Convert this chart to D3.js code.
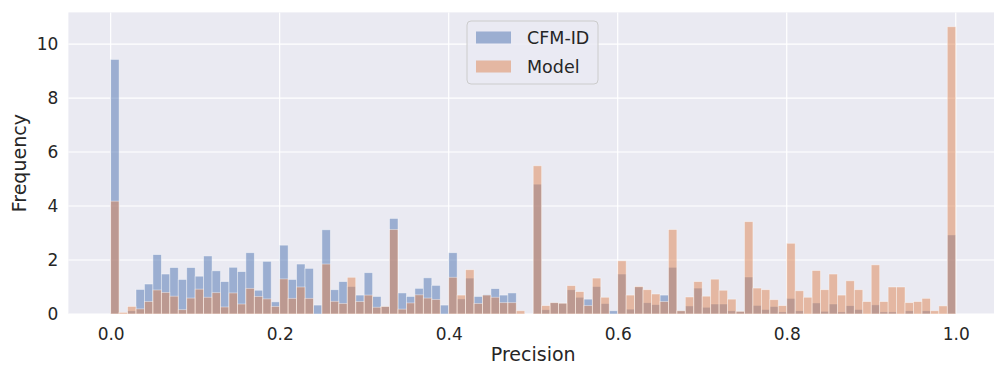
<!DOCTYPE html>
<html>
<head>
<meta charset="utf-8">
<script src="https://cdn.jsdelivr.net/npm/d3@7"></script>
<style>
  body { margin: 0; background: #fff; }
  svg text { font-family: "DejaVu Sans", sans-serif; fill: #262626; }
</style>
</head>
<body>
<svg id="chart"></svg>
<script>
// histogram bins: 100 bins of width 0.01 over [0, 1]
const binWidth = 0.01;
const cfmValues = [
  9.43, 0, 0.12, 0.91, 1.11, 2.2, 1.48, 1.72, 1.28, 1.72,
  1.4, 2.15, 1.6, 1.2, 1.73, 1.57, 2.27, 0.88, 1.95, 0.45,
  2.55, 1.28, 1.85, 1.69, 0.33, 3.12, 0.9, 1.2, 1.02, 0.7,
  1.53, 0.65, 0.28, 3.54, 0.78, 0.65, 0.95, 1.34, 1.06, 0.33,
  2.27, 0.56, 1.33, 0.65, 0.72, 0.94, 0.7, 0.78, 0, 0,
  4.81, 0.16, 0.42, 0.4, 0.9, 0.62, 0.55, 1.02, 0.39, 0.12,
  1.48, 0.18, 1.0, 0.42, 0.35, 0.7, 1.73, 0.12, 0.3, 0.96,
  0.25, 0.37, 0.37, 0.12, 0.1, 1.37, 0.32, 0.17, 0.28, 0.08,
  0.58, 0.12, 0, 0.41, 0.1, 0.37, 0.08, 0.31, 0.17, 0,
  0.34, 0.08, 0.08, 0, 0.12, 0, 0.12, 0, 0, 2.93
];
const modelValues = [
  4.18, 0.06, 0.28, 0.19, 0.46, 0.89, 0.8, 0.66, 0.16, 0.59,
  0.92, 0.62, 0.79, 0.26, 0.78, 0.37, 0.95, 0.65, 0.56, 0.28,
  1.3, 0.58, 1.0, 0.58, 0, 1.85, 0.47, 0.39, 1.36, 0.46,
  0.7, 0.25, 0.28, 3.13, 0.18, 0.41, 0.71, 0.59, 0.54, 0,
  1.36, 0.7, 1.64, 0.39, 0.7, 0.62, 0.42, 0.42, 0.12, 0,
  5.49, 0.31, 0.42, 0.4, 1.05, 0.83, 0.31, 1.33, 0.62, 0,
  1.97, 0.7, 1.02, 0.9, 0.74, 0.46, 3.13, 0.12, 0.63, 1.2,
  0.66, 1.29, 0.88, 0.55, 0.1, 3.42, 0.96, 0.9, 0.53, 0.31,
  2.62, 0.86, 0.62, 1.61, 0.9, 1.48, 0.7, 1.23, 0.9, 0.46,
  1.82, 0.46, 1.0, 1.0, 0.42, 0.46, 0.58, 0.12, 0.3, 10.64
];
const seriesNames = ["CFM-ID", "Model"];
const xTicks = [0, 0.2, 0.4, 0.6, 0.8, 1.0];
const yTicks = [0, 2, 4, 6, 8, 10];

const width = 994;
const height = 366;
const margin = { top: 12.4, right: -4, bottom: 52, left: 68.4 };
const colors = ["#4C72B0", "#DD8452"];

const svg = d3.select("#chart").attr("width", width).attr("height", height);

const x = d3.scaleLinear()
  .domain([-0.05, 1.05])
  .range([margin.left, width - margin.right]);
const yMax = d3.max(cfmValues.concat(modelValues)) * 1.05;
const y = d3.scaleLinear()
  .domain([0, yMax])
  .range([height - margin.bottom, margin.top]);

// plot background
svg.append("rect")
  .attr("x", margin.left)
  .attr("y", margin.top)
  .attr("width", x.range()[1] - margin.left)
  .attr("height", y(0) - margin.top)
  .attr("fill", "#EAEAF2");

// grid
svg.append("g")
  .selectAll("line")
  .data(xTicks)
  .join("line")
  .attr("x1", (d) => x(d)).attr("x2", (d) => x(d))
  .attr("y1", margin.top).attr("y2", y(0))
  .attr("stroke", "#fff").attr("stroke-width", 1.2);
svg.append("g")
  .selectAll("line")
  .data(yTicks)
  .join("line")
  .attr("x1", margin.left).attr("x2", x.range()[1])
  .attr("y1", (d) => y(d)).attr("y2", (d) => y(d))
  .attr("stroke", "#fff").attr("stroke-width", 1.2);

// bars, CFM-ID first then Model on top
[cfmValues, modelValues].forEach((vals, s) => {
  svg.append("g")
    .selectAll("rect")
    .data(vals)
    .join("rect")
    .attr("x", (d, i) => x(i * binWidth))
    .attr("width", (d, i) => x((i + 1) * binWidth) - x(i * binWidth))
    .attr("y", (d) => y(d))
    .attr("height", (d) => y(0) - y(d))
    .attr("fill", colors[s])
    .attr("fill-opacity", 0.5)
    .attr("stroke", "#fff")
    .attr("stroke-opacity", 0.5)
    .attr("stroke-width", 0.8);
});

// axes (ticks hidden, labels only, like seaborn darkgrid)
const xAxis = svg.append("g")
  .attr("transform", `translate(0,${y(0)})`)
  .call(d3.axisBottom(x).tickValues(xTicks).tickFormat(d3.format(".1f")).tickSize(0).tickPadding(14));
const yAxis = svg.append("g")
  .attr("transform", `translate(${margin.left},0)`)
  .call(d3.axisLeft(y).tickValues(yTicks).tickSize(0).tickPadding(10));
[xAxis, yAxis].forEach((g) => {
  g.select(".domain").remove();
  g.selectAll("text").style("font-size", "17px").style("font-family", "DejaVu Sans").attr("fill", "#262626");
});

// axis labels
svg.append("text")
  .attr("x", x(0.5))
  .attr("y", 361)
  .attr("text-anchor", "middle")
  .style("font-size", "19px")
  .text("Precision");
svg.append("text")
  .attr("transform", `translate(26,${(margin.top + y(0)) / 2}) rotate(-90)`)
  .attr("text-anchor", "middle")
  .style("font-size", "19px")
  .text("Frequency");

// legend
const legend = svg.append("g").attr("transform", "translate(467,21)");
legend.append("rect")
  .attr("width", 131).attr("height", 63)
  .attr("rx", 4)
  .attr("fill", "#EAEAF2").attr("fill-opacity", 0.8)
  .attr("stroke", "#cccccc");
seriesNames.forEach((name, i) => {
  const row = legend.append("g").attr("transform", `translate(9,${10.5 + i * 29})`);
  row.append("rect")
    .attr("width", 35).attr("height", 12)
    .attr("fill", colors[i]).attr("fill-opacity", 0.5);
  row.append("text")
    .attr("x", 51).attr("y", 6)
    .attr("dy", "0.35em")
    .style("font-size", "17.5px")
    .text(name);
});
</script>
</body>
</html>
